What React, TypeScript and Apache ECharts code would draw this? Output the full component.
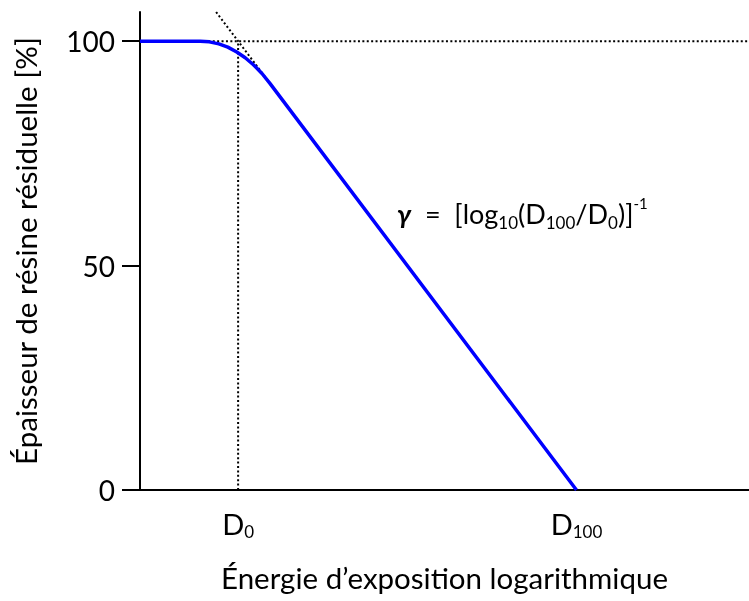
import React, { useEffect, useRef } from 'react';
import * as echarts from 'echarts';

// log exposure energy (arbitrary units: log10 D0 = 1, log10 D100 = 2)
const energy = [0.71, 0.888, 0.915, 0.943, 0.9695, 0.996, 1.021, 1.046, 1.0705, 1.094, 2.0];
// remaining resist thickness [%]
const thickness = [100, 100, 99.85, 99.4, 98.67, 97.6, 96.3, 94.7, 92.8, 90.6, 0];

const yTicks = [0, 50, 100];
const xTickValues = [1, 2];
const xTickLabels = ['D{s|0}', 'D{s|100}'];

const refHx = [0.873, 2.51];
const refHy = [100, 100];
const refVx = [1, 1];
const refVy = [0, 100];
const tanX = [0.935, 1.124];
const tanY = [106.5, 87.6];

const FONT = 'Lato, "Noto Sans", sans-serif';

export default function App() {
  const ref = useRef<HTMLDivElement>(null);
  useEffect(() => {
    if (!ref.current) return;
    const chart = echarts.init(ref.current, null, { renderer: 'svg' });
    const dotted = { color: '#000', width: 2, type: [2, 2.4] as any };
    chart.setOption({
      animation: false,
      textStyle: { fontFamily: FONT },
      grid: { left: 140, right: 0, top: 12, bottom: 111, containLabel: false },
      xAxis: {
        type: 'value',
        min: 0.71,
        max: 2.51,
        name: "Énergie d’exposition logarithmique",
        nameLocation: 'middle',
        nameGap: 72,
        nameTextStyle: { fontSize: 29.5, color: '#000', fontFamily: FONT },
        axisLine: { show: true, onZero: false, lineStyle: { color: '#000', width: 2 } },
        axisTick: { show: false },
        splitLine: { show: false },
        axisLabel: {
          customValues: xTickValues,
          margin: 16,
          color: '#000',
          fontSize: 29,
          lineHeight: 34,
          fontFamily: FONT,
          formatter: (v: number) => xTickLabels[xTickValues.indexOf(v)] ?? '',
          rich: {
            s: { fontSize: 17, fontFamily: FONT, color: '#000', verticalAlign: 'bottom', lineHeight: 16 },
          },
        },
      },
      yAxis: {
        type: 'value',
        min: 0,
        max: 106.5,
        name: 'Épaisseur de résine résiduelle [%]',
        nameLocation: 'middle',
        nameGap: 100,
        nameTextStyle: { fontSize: 29.5, color: '#000', fontFamily: FONT },
        axisLine: { show: true, lineStyle: { color: '#000', width: 2 } },
        axisTick: { show: true, customValues: yTicks, length: 18, lineStyle: { color: '#000', width: 2 } },
        splitLine: { show: false },
        axisLabel: { customValues: yTicks, margin: 25, color: '#000', fontSize: 28, fontFamily: FONT },
      },
      graphic: [
        {
          type: 'text',
          left: 397,
          top: 195,
          style: {
            text: '{g|γ}  =  [log{s|10}(D{s|100}/D{s|0})]{p|-1}',
            fontSize: 27,
            lineHeight: 36,
            fontFamily: FONT,
            fill: '#000',
            rich: {
              g: { fontSize: 27, fontStyle: 'italic', fontWeight: 'bold', fontFamily: FONT, lineHeight: 36 },
              s: { fontSize: 17, fontFamily: FONT, verticalAlign: 'bottom', lineHeight: 16 },
              p: { fontSize: 15, fontFamily: FONT, verticalAlign: 'top', lineHeight: 14 },
            },
          },
        },
      ],
      series: [
        {
          type: 'line',
          data: refHx.map((x, i) => [x, refHy[i]]),
          showSymbol: false,
          lineStyle: dotted,
          z: 1,
          silent: true,
        },
        {
          type: 'line',
          data: refVx.map((x, i) => [x, refVy[i]]),
          showSymbol: false,
          lineStyle: dotted,
          z: 1,
          silent: true,
        },
        {
          type: 'line',
          data: tanX.map((x, i) => [x, tanY[i]]),
          showSymbol: false,
          lineStyle: dotted,
          z: 1,
          silent: true,
        },
        {
          type: 'line',
          data: energy.map((x, i) => [x, thickness[i]]),
          showSymbol: false,
          lineStyle: { color: '#0000ff', width: 3.5 },
          z: 3,
          silent: true,
        },
      ],
    });
    return () => chart.dispose();
  }, []);
  return <div ref={ref} style={{ position: 'fixed', left: 0, top: 0, width: 749, height: 601 }} />;
}
